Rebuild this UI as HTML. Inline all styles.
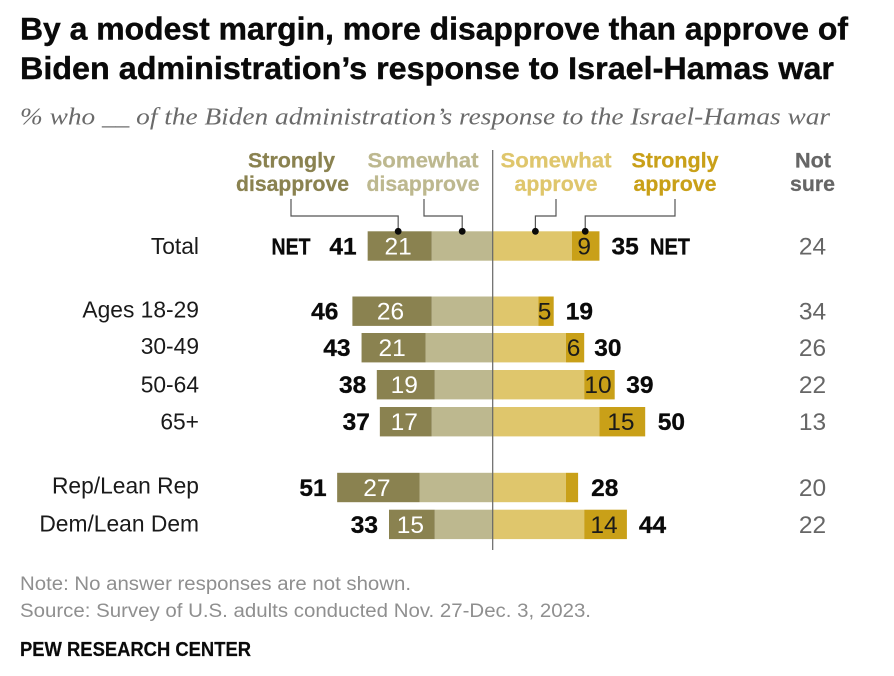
<!DOCTYPE html>
<html><head><meta charset="utf-8">
<style>
html,body{margin:0;padding:0;background:#fff;width:894px;height:676px;overflow:hidden}
svg{display:block}
text{font-family:"Liberation Sans",sans-serif}
</style></head>
<body>
<svg id="chart" width="894" height="676" viewBox="0 0 894 676" xmlns="http://www.w3.org/2000/svg">
<text x="20" y="39.5" font-size="31.5" font-weight="700" fill="#0a0a0a" stroke="#0a0a0a" stroke-width="0.4" textLength="828" lengthAdjust="spacingAndGlyphs">By a modest margin, more disapprove than approve of</text>
<text x="20" y="79" font-size="31.5" font-weight="700" fill="#0a0a0a" stroke="#0a0a0a" stroke-width="0.4" textLength="814" lengthAdjust="spacingAndGlyphs">Biden administration’s response to Israel-Hamas war</text>
<text x="20" y="124.5" font-size="24.5" font-style="italic" fill="#6a6a6a" style="font-family:'Liberation Serif',serif" textLength="810" lengthAdjust="spacingAndGlyphs">% who __ of the Biden administration’s response to the Israel-Hamas war</text>
<g id="legend" font-size="21.5" font-weight="700" text-anchor="middle" stroke-width="0.25">
<text fill="#8a8250" stroke="#8a8250" x="291.5" y="167.5" textLength="87" lengthAdjust="spacingAndGlyphs">Strongly</text>
<text fill="#8a8250" stroke="#8a8250" x="292.5" y="191" textLength="113" lengthAdjust="spacingAndGlyphs">disapprove</text>
<text fill="#bdb88f" stroke="#bdb88f" x="423" y="167.5" textLength="111" lengthAdjust="spacingAndGlyphs">Somewhat</text>
<text fill="#bdb88f" stroke="#bdb88f" x="423" y="191" textLength="113" lengthAdjust="spacingAndGlyphs">disapprove</text>
<text fill="#dfc66c" stroke="#dfc66c" x="556" y="167.5" textLength="111" lengthAdjust="spacingAndGlyphs">Somewhat</text>
<text fill="#dfc66c" stroke="#dfc66c" x="556" y="191" textLength="83" lengthAdjust="spacingAndGlyphs">approve</text>
<text fill="#c9a018" stroke="#c9a018" x="675" y="167.5" textLength="87" lengthAdjust="spacingAndGlyphs">Strongly</text>
<text fill="#c9a018" stroke="#c9a018" x="675" y="191" textLength="83" lengthAdjust="spacingAndGlyphs">approve</text>
<text fill="#666666" stroke="#666666" x="813" y="167.5" textLength="36" lengthAdjust="spacingAndGlyphs">Not</text>
<text fill="#666666" stroke="#666666" x="812.5" y="191" textLength="45" lengthAdjust="spacingAndGlyphs">sure</text>
</g>
<g id="bars"></g>
<g id="leaders"></g>
<line x1="492.7" x2="492.7" y1="150" y2="550" stroke="#666" stroke-width="1.2"/>
<g id="labels"></g>
<text x="20" y="590" font-size="19" fill="#8f8f8f" textLength="391" lengthAdjust="spacingAndGlyphs">Note: No answer responses are not shown.</text>
<text x="20" y="617" font-size="19" fill="#8f8f8f" textLength="571" lengthAdjust="spacingAndGlyphs">Source: Survey of U.S. adults conducted Nov. 27-Dec. 3, 2023.</text>
<text x="20" y="656" font-size="20" font-weight="700" fill="#0a0a0a" stroke="#0a0a0a" stroke-width="0.2" textLength="231" lengthAdjust="spacingAndGlyphs">PEW RESEARCH CENTER</text>
</svg>
<script>
const categories = ['Total','Ages 18-29','30-49','50-64','65+','Rep/Lean Rep','Dem/Lean Dem'];
const stronglyDisapprove = [21,26,21,19,17,27,15];
const somewhatDisapprove = [20,20,22,19,20,24,19];
const somewhatApprove = [26,15,24,30,35,24,30];
const stronglyApprove = [9,5,6,10,15,4,14];
const netDisapprove = [41,46,43,38,37,51,33];
const netApprove = [35,19,30,39,50,28,44];
const notSure = [24,34,26,22,13,20,22];
const hiddenStronglyApproveLabels = ['Rep/Lean Rep'];

const NS = 'http://www.w3.org/2000/svg';
const zeroX = 492.7, unit = 3.05;
const rowTops = [231.3,296.5,333,370,407,472.8,509.7];
const rowHeight = 29.4;
const categoryLift = [0,1.5,1.5,0,0,2,1];
const leftGap = [11,14,11,10.5,10,10.5,11];
const rightGap = [12,12,10,11.5,12.5,13,12];
const x = v => zeroX + v * unit;
const barsG = document.getElementById('bars');
const labelsG = document.getElementById('labels');
const leadersG = document.getElementById('leaders');

function addRect(name, v0, v1, top, fill) {
  const r = document.createElementNS(NS, 'rect');
  
  
  r.setAttribute('x', Math.min(x(v0), x(v1)));
  r.setAttribute('y', top);
  r.setAttribute('width', Math.abs(x(v1) - x(v0)));
  r.setAttribute('height', rowHeight);
  r.setAttribute('fill', fill);
  barsG.appendChild(r);
}
function addText(name, str, px, py, anchor, size, weight, fill, len) {
  const t = document.createElementNS(NS, 'text');
  
  
  t.setAttribute('x', px);
  t.setAttribute('y', py);
  t.setAttribute('text-anchor', anchor);
  t.setAttribute('font-size', size);
  t.setAttribute('font-weight', weight);
  t.setAttribute('fill', fill);
  if (weight === 700) {
    t.setAttribute('stroke', fill);
    t.setAttribute('stroke-width', '0.3');
  }
  if (len) {
    t.setAttribute('textLength', len);
    t.setAttribute('lengthAdjust', 'spacingAndGlyphs');
  }
  t.textContent = str;
  labelsG.appendChild(t);
}
categories.forEach((cat, i) => {
  const top = rowTops[i];
  const base = top + rowHeight / 2 + 8.5;
  const wd = somewhatDisapprove[i], sd = stronglyDisapprove[i];
  const wa = somewhatApprove[i], sa = stronglyApprove[i];
  addRect('bar-somewhat-disapprove', -wd, 0, top, '#bdb88f');
  addRect('bar-strongly-disapprove', -(wd + sd), -wd, top, '#8a8250');
  addRect('bar-somewhat-approve', 0, wa, top, '#dfc66c');
  addRect('bar-strongly-approve', wa, wa + sa, top, '#c9a018');
  addText('category-label', cat, 199, top + rowHeight / 2 + 8 - categoryLift[i], 'end', 22.8, 400, '#1a1a1a');
  addText('strongly-disapprove-value', sd, x(-wd - sd / 2) - 1.5, base, 'middle', 24.5, 400, '#ffffff');
  if (!hiddenStronglyApproveLabels.includes(cat)) {
    addText('strongly-approve-value', sa, x(wa + sa / 2) - 1.5, base, 'middle', 24.5, 400, '#1a1a1a');
  }
  addText('net-disapprove-value', netDisapprove[i], x(-wd - sd) - leftGap[i], base, 'end', 24.5, 700, '#0a0a0a');
  addText('net-approve-value', netApprove[i], x(wa + sa) + rightGap[i], base, 'start', 24.5, 700, '#0a0a0a');
  addText('not-sure-value', notSure[i], 812.5, base, 'middle', 24.5, 400, '#666666');
});
addText('net-disapprove-tag', 'NET', 271.5, rowTops[0] + rowHeight / 2 + 8.5, 'start', 23, 700, '#0a0a0a', 39);
addText('net-approve-tag', 'NET', 650, rowTops[0] + rowHeight / 2 + 8.5, 'start', 23, 700, '#0a0a0a', 40);

const leaderAnchors = [
  ['strongly-disapprove', 291, x(-somewhatDisapprove[0] - stronglyDisapprove[0] / 2) - 1.5],
  ['somewhat-disapprove', 424, x(-somewhatDisapprove[0] / 2)],
  ['somewhat-approve', 556, x(somewhatApprove[0] / 2 + 1)],
  ['strongly-approve', 675, x(somewhatApprove[0] + stronglyApprove[0] / 2) - 0.5]
];
leaderAnchors.forEach(([name, fromX, toX]) => {
  const p = document.createElementNS(NS, 'path');
  
  
  p.setAttribute('d', `M${fromX} 199V216H${toX}V231`);
  p.setAttribute('fill', 'none');
  p.setAttribute('stroke', '#555');
  p.setAttribute('stroke-width', '1.2');
  leadersG.appendChild(p);
  const c = document.createElementNS(NS, 'circle');
  
  
  c.setAttribute('cx', toX);
  c.setAttribute('cy', 231.3);
  c.setAttribute('r', 3.4);
  c.setAttribute('fill', '#0a0a0a');
  leadersG.appendChild(c);
});
</script>
</body></html>
